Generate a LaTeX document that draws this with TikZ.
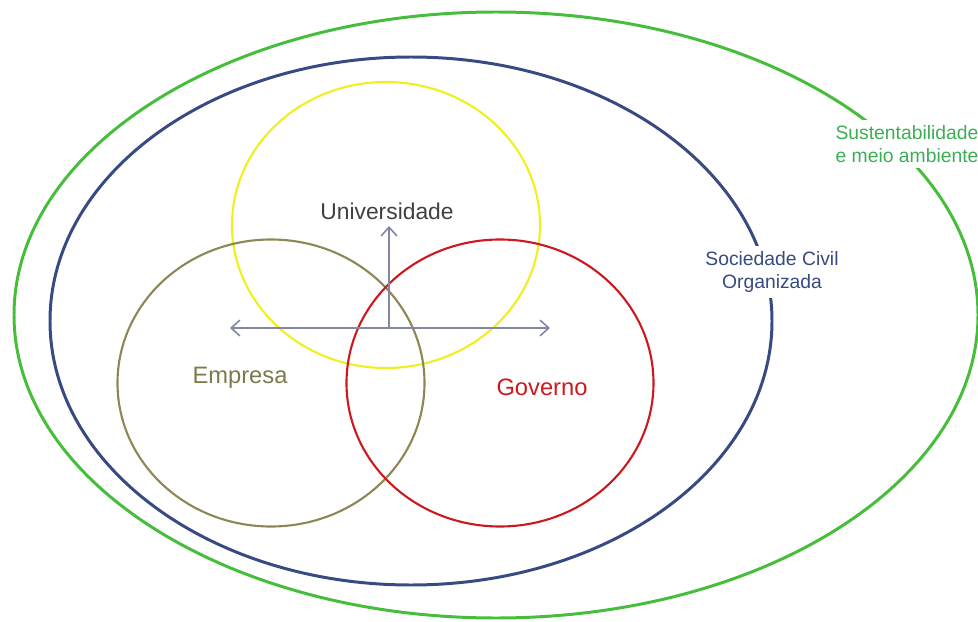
\documentclass[tikz,border=0pt]{standalone}
\usepackage{fontspec}
\setmainfont{Liberation Sans}
\usepackage{tikz}
\usetikzlibrary{positioning, shapes.geometric, arrows.meta}

\definecolor{sustgreen}{RGB}{70,190,60}
\definecolor{sustlabel}{RGB}{60,175,85}
\definecolor{socblue}{RGB}{55,75,130}
\definecolor{univyellow}{RGB}{240,240,30}
\definecolor{empolive}{RGB}{140,135,85}
\definecolor{govred}{RGB}{205,25,30}
\definecolor{axisgray}{RGB}{130,135,165}

\begin{document}
\begin{tikzpicture}[x=0.02cm, y=-0.02cm,
  ring/.style={ellipse, draw, inner sep=0pt},
  tag/.style={font=\fontsize{11}{13.5}\selectfont, align=center, fill=white, inner sep=3pt},
  setname/.style={font=\fontsize{13.5}{16}\selectfont},
  axis/.style={axisgray, line width=0.9pt, {Straight Barb[length=5pt,width=9pt]}-{Straight Barb[length=5pt,width=9pt]}}]

\useasboundingbox (0,0) rectangle (978,622);

\node[ring, draw=sustgreen, line width=1.7pt, minimum width=964*0.02cm, minimum height=606*0.02cm] (S) at (496,315) {};
\node[ring, draw=socblue, line width=1.7pt, minimum width=722*0.02cm, minimum height=528*0.02cm] (C) at (411,321) {};
\node[ring, draw=univyellow, line width=1.2pt, minimum width=308*0.02cm, minimum height=286*0.02cm] (U) at (386,225) {};
\node[ring, draw=empolive, line width=1.2pt, minimum width=307*0.02cm, minimum height=287*0.02cm] (E) at (271,383) {};
\node[ring, draw=govred, line width=1.2pt, minimum width=307*0.02cm, minimum height=287*0.02cm] (G) at (500,383) {};

\coordinate (O) at (389,328);
\coordinate (L) at (230,328);
\coordinate (R) at (550,328);
\coordinate (T) at (389,226);
\draw[axis] (L) -- (R);
\draw[axis, {-Straight Barb[length=5pt,width=9pt]}] (O) -- (T);

\node[setname, font=\fontsize{13}{16}\selectfont, text=black!75] (u) at (387,211) {Universidade};
\node[setname, text=empolive!90!black] (e) at (240,378) {Empresa};
\node[setname, text=govred] (g) at (542,387) {Governo};
\node[tag, text=socblue] (c) at (772,272) {Sociedade Civil\\Organizada};
\node[tag, text=sustlabel] (s) at (907,144) {Sustentabilidade\\e meio ambiente};

\end{tikzpicture}
\end{document}
